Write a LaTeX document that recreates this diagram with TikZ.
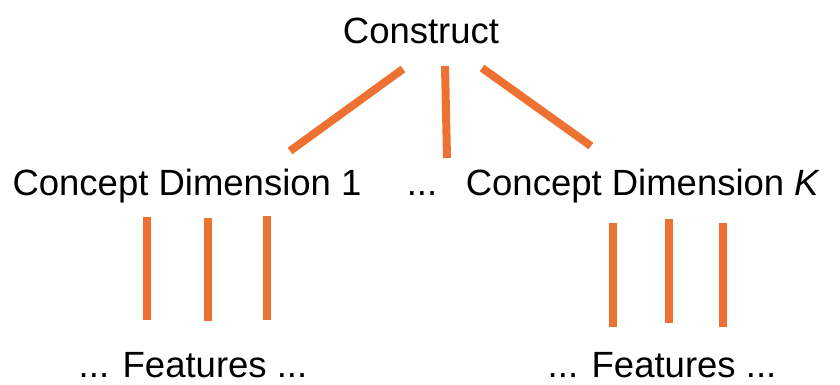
\documentclass[tikz,border=0pt]{standalone}
\usepackage{fontspec}
\setmainfont{Liberation Sans}
\definecolor{linkorange}{RGB}{237,114,50}
\tikzset{
  lbl/.style={inner sep=0pt, anchor=base, font=\fontsize{36.5}{40}\selectfont},
  link/.style={draw=linkorange, line width=8pt}
}
\begin{document}
\begin{tikzpicture}[x=1pt,y=-1pt]
    \useasboundingbox (0,0) rectangle (840,384);
    % labels
    \node[lbl] (construct) at (421,43) {Construct};
    \node[lbl] (dimA) at (187,195) {Concept Dimension 1};
    \node[lbl] (dots) at (422,195) {...};
    \node[lbl] (dimK) at (643,195) {Concept Dimension \textit{K}};
    \node[lbl] (featA) at (193,377) {... Features ...};
    \node[lbl] (featK) at (662,377) {... Features ...};
    % ends of the links
    \coordinate (ca) at (403,69);  \coordinate (da) at (290,151);
    \coordinate (cb) at (445,66);  \coordinate (db) at (447,158);
    \coordinate (cc) at (482,68);  \coordinate (dc) at (591,146);
    \draw[link] (ca) -- (da);
    \draw[link] (cb) -- (db);
    \draw[link] (cc) -- (dc);
    % feature links
    \foreach \x/\t/\b in {147/217/320, 208/218/321, 267/216/320} {
        \draw[link] (\x,\t) -- (\x,\b);
    }
    \foreach \x/\t/\b in {613/223/327, 669/219/323, 723/223/327} {
        \draw[link] (\x,\t) -- (\x,\b);
    }
\end{tikzpicture}
\end{document}
